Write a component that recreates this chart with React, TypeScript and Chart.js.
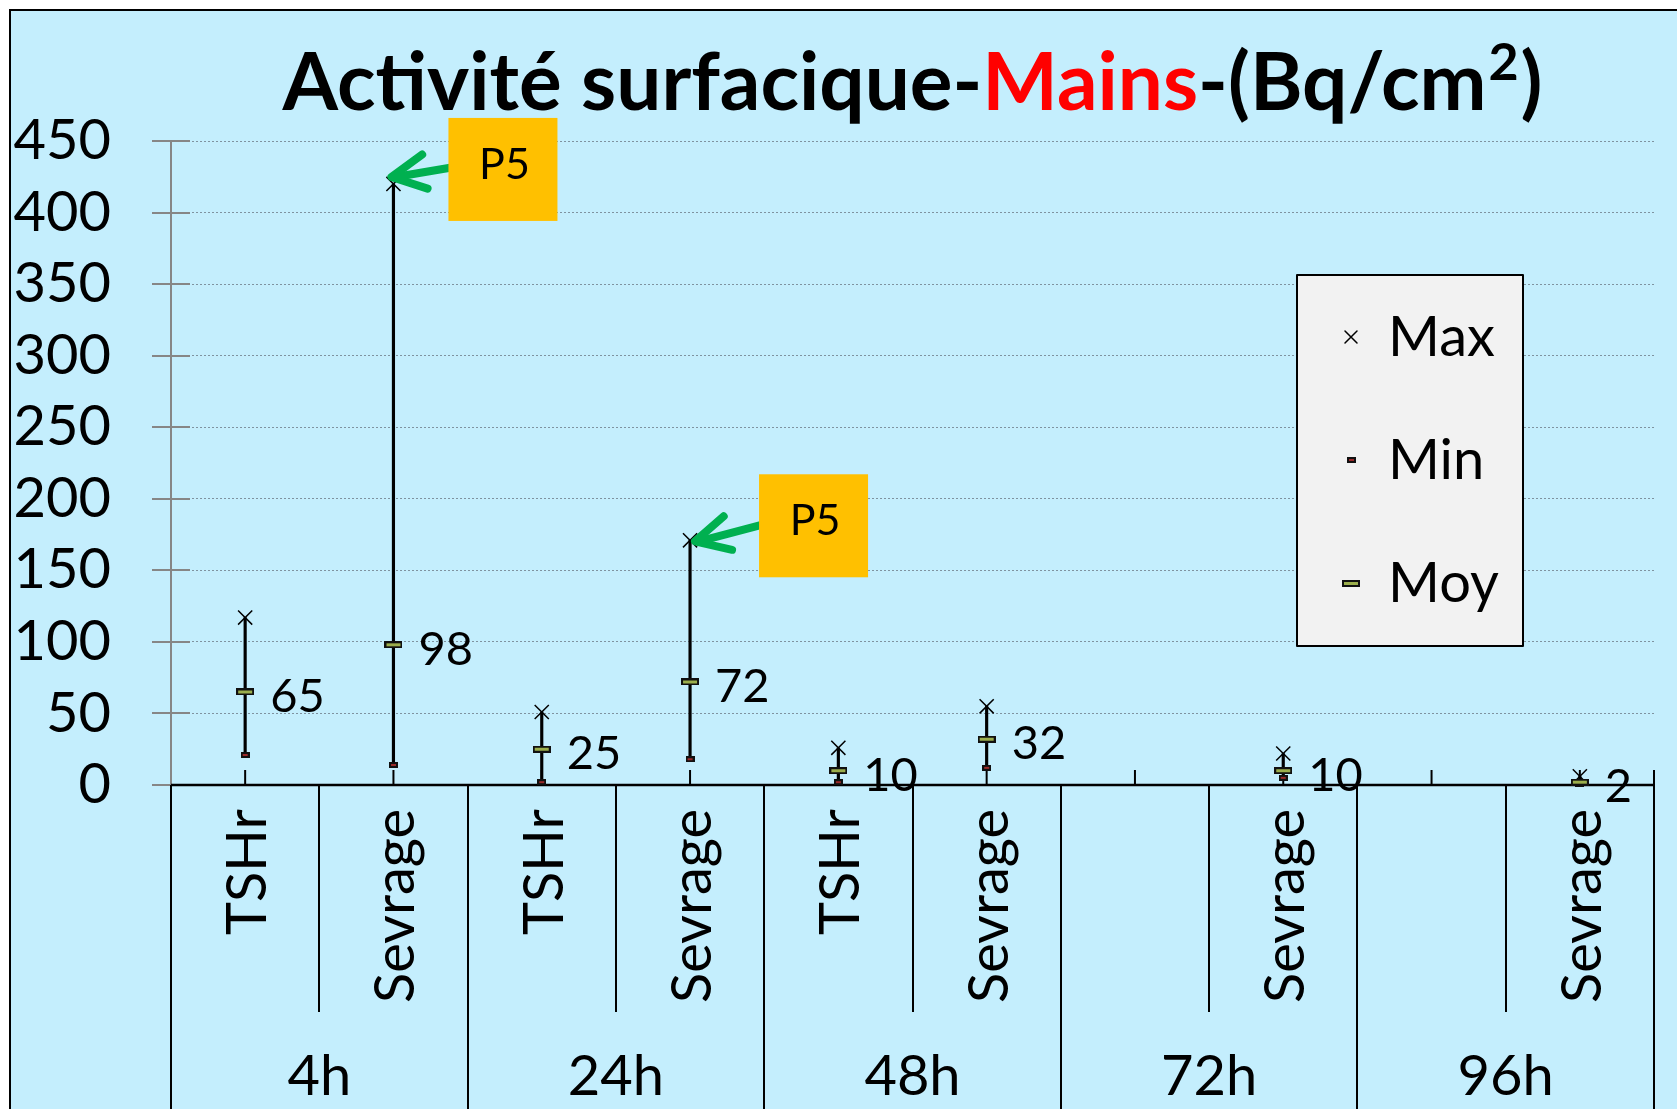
import React, { useEffect, useRef } from "react";
import { Chart, registerables } from "chart.js";

Chart.register(...registerables);

// ---------- data ----------
const categories = ["TSHr", "Sevrage", "TSHr", "Sevrage", "TSHr", "Sevrage", "", "Sevrage", "", "Sevrage"];
const groups = ["4h", "24h", "48h", "72h", "96h"];
const maxValues: (number | null)[] = [117, 420, 51, 171, 26, 55, null, 22, null, 6];
const minValues: (number | null)[] = [21, 14, 2, 18, 2, 12, null, 5, null, 1];
const moyValues: (number | null)[] = [65, 98, 25, 72, 10, 32, null, 10, null, 2];
const yTickValues = [0, 50, 100, 150, 200, 250, 300, 350, 400, 450];
const seriesNames = ["Max", "Min", "Moy"];
const titleParts = [
  { text: "Activité surfacique-", red: false, sup: false },
  { text: "Mains", red: true, sup: false },
  { text: "-(Bq/cm", red: false, sup: false },
  { text: "2", red: false, sup: true },
  { text: ")", red: false, sup: false },
];
const calloutIndices = [1, 3];
const calloutText = "P5";

// ---------- styles ----------
const FONT = "Lato, 'Open Sans', 'DejaVu Sans', sans-serif";
const BG = "#c4eefd";
const calloutLayout = [
  { boxDx: 55, tipDx: -2, tipDy: -7 },
  { boxDx: 69, tipDx: 5, tipDy: 1 },
];

function makeMarker(w: number, h: number, fill: string) {
  const c = document.createElement("canvas");
  c.width = w;
  c.height = h;
  const g = c.getContext("2d")!;
  g.fillStyle = "#111";
  g.fillRect(0, 0, w, h);
  g.fillStyle = fill;
  g.fillRect(2, 2, w - 4, h - 4);
  return c;
}

function drawCross(ctx: CanvasRenderingContext2D, x: number, y: number, r: number) {
  ctx.save();
  ctx.strokeStyle = "#000";
  ctx.lineWidth = 1.5;
  ctx.beginPath();
  ctx.moveTo(x - r, y - r);
  ctx.lineTo(x + r, y + r);
  ctx.moveTo(x + r, y - r);
  ctx.lineTo(x - r, y + r);
  ctx.stroke();
  ctx.restore();
}

export default function App() {
  const ref = useRef<HTMLCanvasElement | null>(null);

  useEffect(() => {
    document.body.style.margin = "0";
    document.body.style.overflow = "hidden";
    const canvas = ref.current!;
    const minMarker = makeMarker(9, 6, "#9a2a2a");
    const moyMarker = makeMarker(18, 7, "#9bae4c");

    const plugin = {
      id: "customDecor",
      beforeDraw(chart: any) {
        const ctx = chart.ctx as CanvasRenderingContext2D;
        ctx.save();
        ctx.fillStyle = "#fff";
        ctx.fillRect(0, 0, chart.width, chart.height);
        ctx.fillStyle = BG;
        ctx.fillRect(10, 10, chart.width, chart.height);
        ctx.strokeStyle = "#000";
        ctx.lineWidth = 2;
        ctx.beginPath();
        ctx.moveTo(10, chart.height);
        ctx.lineTo(10, 10);
        ctx.lineTo(chart.width, 10);
        ctx.stroke();
        ctx.restore();
      },
      beforeDatasetsDraw(chart: any) {
        const ctx = chart.ctx as CanvasRenderingContext2D;
        const xs = chart.scales.x;
        const ys = chart.scales.y;
        const area = chart.chartArea;
        const y0 = ys.getPixelForValue(0);
        ctx.save();
        // y tick marks crossing the axis
        ctx.strokeStyle = "#868686";
        ctx.lineWidth = 2;
        yTickValues.forEach((v) => {
          const y = Math.round(ys.getPixelForValue(v));
          ctx.beginPath();
          ctx.moveTo(area.left - 19, y);
          ctx.lineTo(area.left + 19, y);
          ctx.stroke();
        });
        // category axis
        const half = (xs.getPixelForValue(1) - xs.getPixelForValue(0)) / 2;
        ctx.strokeStyle = "#000";
        ctx.lineWidth = 2.5;
        ctx.beginPath();
        ctx.moveTo(area.left, y0);
        ctx.lineTo(area.right, y0);
        ctx.stroke();
        ctx.lineWidth = 2;
        for (let i = 0; i < categories.length; i++) {
          const cx = xs.getPixelForValue(i);
          ctx.beginPath();
          ctx.moveTo(cx, y0);
          ctx.lineTo(cx, y0 - 15);
          ctx.stroke();
          const left = Math.round(cx - half);
          ctx.beginPath();
          if (i % 2 === 0) {
            ctx.moveTo(left, y0);
            ctx.lineTo(left, chart.height);
          } else {
            ctx.moveTo(left, y0);
            ctx.lineTo(left, y0 + 227);
          }
          ctx.stroke();
        }
        const rightX = Math.round(xs.getPixelForValue(categories.length - 1) + half);
        ctx.beginPath();
        ctx.moveTo(rightX, y0 - 15);
        ctx.lineTo(rightX, chart.height);
        ctx.stroke();

        // rotated category labels
        ctx.fillStyle = "#000";
        ctx.font = `56px ${FONT}`;
        ctx.textAlign = "right";
        ctx.textBaseline = "alphabetic";
        categories.forEach((lab, i) => {
          if (!lab) return;
          const cx = xs.getPixelForValue(i);
          ctx.save();
          ctx.translate(cx + 21, y0 + 24);
          ctx.rotate(-Math.PI / 2);
          ctx.fillText(lab, 0, 0);
          ctx.restore();
        });
        // group labels
        ctx.font = `56px ${FONT}`;
        ctx.textAlign = "center";
        groups.forEach((g, gi) => {
          const cx = (xs.getPixelForValue(gi * 2) + xs.getPixelForValue(gi * 2 + 1)) / 2;
          ctx.fillText(g, cx, y0 + 310);
        });
        ctx.restore();
      },
      afterDraw(chart: any) {
        const ctx = chart.ctx as CanvasRenderingContext2D;
        const xs = chart.scales.x;
        const ys = chart.scales.y;
        const area = chart.chartArea;
        ctx.save();

        // data labels (Moy)
        ctx.fillStyle = "#000";
        ctx.font = `47px ${FONT}`;
        ctx.textAlign = "left";
        ctx.textBaseline = "alphabetic";
        moyValues.forEach((v, i) => {
          if (v == null) return;
          const x = xs.getPixelForValue(i) + 25;
          const y = ys.getPixelForValue(v) + 20;
          ctx.fillText(String(v), x, y);
        });

        // title
        const mainFont = `bold 80px ${FONT}`;
        const supFont = `bold 52px ${FONT}`;
        const widths = titleParts.map((p) => {
          ctx.font = p.sup ? supFont : mainFont;
          return ctx.measureText(p.text).width + (p.sup ? 4 : 0);
        });
        const total = widths.reduce((a, b) => a + b, 0);
        let tx = (area.left + area.right) / 2 - total / 2;
        titleParts.forEach((p, k) => {
          ctx.fillStyle = p.red ? "#ff0000" : "#000";
          ctx.font = p.sup ? supFont : mainFont;
          ctx.fillText(p.text, tx + (p.sup ? 2 : 0), p.sup ? 80 : 110);
          tx += widths[k];
        });

        // callouts
        calloutIndices.forEach((idx, k) => {
          const v = maxValues[idx];
          if (v == null) return;
          const lay = calloutLayout[k];
          const px = xs.getPixelForValue(idx);
          const py = ys.getPixelForValue(v);
          const bx = px + lay.boxDx;
          const by = py - 66;
          const tipX = px + lay.tipDx;
          const tipY = py + lay.tipDy;
          const tailX = bx + 12;
          const tailY = py - 18;
          ctx.strokeStyle = "#00b050";
          ctx.lineWidth = 8;
          ctx.lineCap = "round";
          ctx.lineJoin = "round";
          ctx.beginPath();
          ctx.moveTo(tailX, tailY);
          ctx.lineTo(tipX + 4, tipY);
          ctx.stroke();
          const ang = Math.atan2(tailY - tipY, tailX - tipX);
          const hl = 38;
          const spread = (27 * Math.PI) / 180;
          ctx.beginPath();
          ctx.moveTo(tipX + Math.cos(ang - spread) * hl, tipY + Math.sin(ang - spread) * hl);
          ctx.lineTo(tipX, tipY);
          ctx.lineTo(tipX + Math.cos(ang + spread) * hl, tipY + Math.sin(ang + spread) * hl);
          ctx.stroke();
          ctx.fillStyle = "#ffc000";
          ctx.fillRect(bx, by, 109, 103);
          ctx.fillStyle = "#000";
          ctx.font = `43px ${FONT}`;
          ctx.textAlign = "center";
          ctx.fillText(calloutText, bx + 56, py - 5);
          ctx.textAlign = "left";
        });

        // legend
        const lx = 1297, ly = 275, lw = 226, lh = 371;
        ctx.fillStyle = "#f2f2f2";
        ctx.fillRect(lx, ly, lw, lh);
        ctx.strokeStyle = "#000";
        ctx.lineWidth = 2;
        ctx.strokeRect(lx, ly, lw, lh);
        ctx.fillStyle = "#000";
        ctx.font = `56px ${FONT}`;
        ctx.textAlign = "left";
        seriesNames.forEach((name, k) => {
          const cy = 337 + k * 123;
          const mx = 1351;
          if (k === 0) drawCross(ctx, mx, cy, 6);
          else if (k === 1) ctx.drawImage(minMarker, mx - 4, cy - 3);
          else ctx.drawImage(moyMarker, mx - 9, cy - 3);
          ctx.fillStyle = "#000";
          ctx.fillText(name, 1388, cy + 19);
        });
        ctx.restore();
      },
    };

    const chart = new Chart(canvas, {
      type: "bar",
      data: {
        labels: categories,
        datasets: [
          {
            type: "bar",
            label: "Range",
            data: categories.map((_, i) =>
              maxValues[i] == null || minValues[i] == null ? null : [minValues[i], maxValues[i]]
            ) as any,
            backgroundColor: "#000",
            borderWidth: 0,
            barThickness: 2.5,
            order: 10,
          },
          {
            type: "line",
            label: seriesNames[0],
            data: maxValues,
            showLine: false,
            pointStyle: "crossRot",
            pointRadius: 10,
            pointBorderColor: "#000",
            pointBorderWidth: 1.5,
            order: 1,
            clip: false,
          } as any,
          {
            type: "line",
            label: seriesNames[1],
            data: minValues,
            showLine: false,
            pointStyle: minMarker,
            pointRadius: 3,
            order: 2,
            clip: false,
          } as any,
          {
            type: "line",
            label: seriesNames[2],
            data: moyValues,
            showLine: false,
            pointStyle: moyMarker,
            pointRadius: 3,
            order: 0,
            clip: false,
          } as any,
        ],
      },
      options: {
        responsive: false,
        animation: false,
        events: [],
        layout: { padding: { top: 141, right: 23, bottom: 324, left: 0 } },
        plugins: {
          legend: { display: false },
          tooltip: { enabled: false },
          title: { display: false },
        },
        scales: {
          x: {
            display: false,
            offset: true,
            grid: { display: false },
          },
          y: {
            min: 0,
            max: 450,
            afterBuildTicks: (s: any) => {
              s.ticks = yTickValues.map((v) => ({ value: v }));
            },
            afterFit: (s: any) => {
              s.width = 171;
            },
            ticks: {
              font: { family: FONT, size: 56 },
              color: "#000",
              padding: 41,
            },
            grid: {
              color: "#7f93a0",
              lineWidth: 1,
              tickLength: 19,
              tickColor: "rgba(0,0,0,0)",
            },
            border: { display: true, color: "#868686", width: 2, dash: [2, 2] },
          },
        },
      },
      plugins: [plugin],
    } as any);

    return () => chart.destroy();
  }, []);

  return <canvas ref={ref} width={1677} height={1109} style={{ display: "block", width: 1677, height: 1109 }} />;
}
